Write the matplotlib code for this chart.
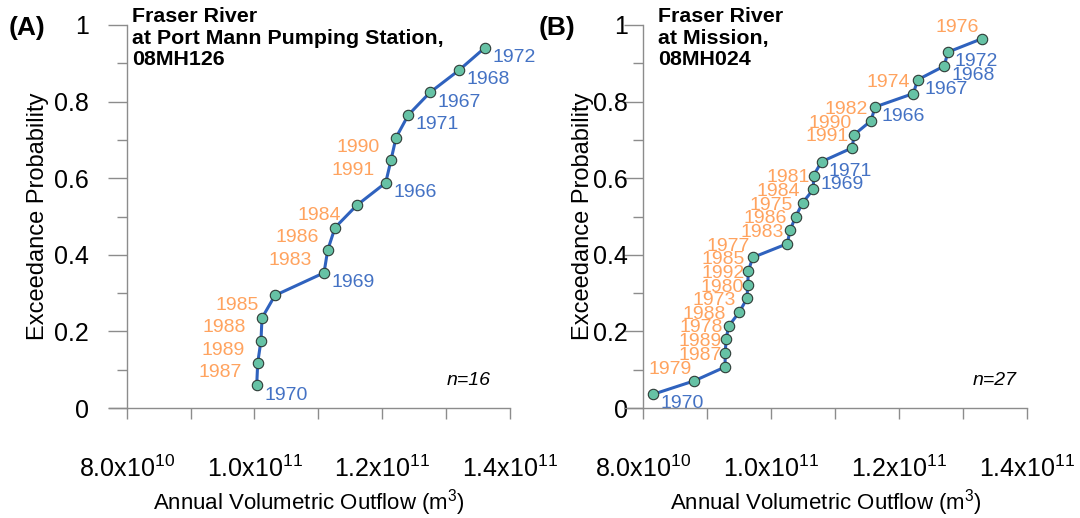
import matplotlib
matplotlib.use('Agg')
import matplotlib.pyplot as plt
from matplotlib.ticker import FixedLocator

plt.rcParams['font.family'] = ['Liberation Sans', 'DejaVu Sans']
plt.rcParams['mathtext.fontset'] = 'custom'
plt.rcParams['mathtext.rm'] = 'Liberation Sans'
plt.rcParams['mathtext.it'] = 'Liberation Sans:italic'
plt.rcParams['mathtext.bf'] = 'Liberation Sans:bold'

# ---------------- data ----------------
# Panel A: Fraser River at Port Mann Pumping Station (sorted by outflow)
years_a = [1970, 1987, 1989, 1988, 1985, 1969, 1983, 1986, 1984, 1966,
           1991, 1990, 1971, 1967, 1968, 1972]
outflow_a = [1.0035e11, 1.0051e11, 1.0102e11, 1.0118e11, 1.0321e11, 1.1089e11,
             1.1146e11, 1.1261e11, 1.1600e11, 1.2054e11, 1.2137e11, 1.2216e11,
             1.2408e11, 1.2748e11, 1.3202e11, 1.3609e11]
prob_a = [0.059, 0.118, 0.176, 0.235, 0.294, 0.353, 0.412, 0.471, 0.529, 0.588,
          0.647, 0.706, 0.765, 0.824, 0.882, 0.941]

# Panel B: Fraser River at Mission (sorted by outflow)
years_b = [1970, 1979, 1987, 1989, 1978, 1988, 1973, 1980, 1992, 1985,
           1977, 1983, 1986, 1975, 1984, 1981, 1969, 1971, 1991, 1990,
           1982, 1966, 1974, 1967, 1968, 1972, 1976]
outflow_b = [8.161e10, 8.802e10, 9.281e10, 9.285e10, 9.297e10, 9.339e10, 9.503e10,
             9.625e10, 9.636e10, 9.645e10, 9.714e10, 1.0255e11, 1.0297e11,
             1.0386e11, 1.0495e11, 1.0661e11, 1.0665e11, 1.0789e11, 1.1266e11,
             1.1302e11, 1.1563e11, 1.1625e11, 1.2223e11, 1.2292e11, 1.2708e11,
             1.2761e11, 1.3292e11]
prob_b = [0.036, 0.071, 0.107, 0.143, 0.179, 0.214, 0.250, 0.286, 0.321, 0.357,
          0.393, 0.429, 0.464, 0.500, 0.536, 0.571, 0.607, 0.643, 0.679, 0.714,
          0.750, 0.786, 0.821, 0.857, 0.893, 0.929, 0.964]

xtick_values = [8.0e10, 1.0e11, 1.2e11, 1.4e11]
xtick_labels = ['8.0x10$^{10}$', '1.0x10$^{11}$', '1.2x10$^{11}$', '1.4x10$^{11}$']
xminor_values = [9.0e10, 1.1e11, 1.3e11]
ytick_values = [0, 0.2, 0.4, 0.6, 0.8, 1.0]
ytick_labels = ['0', '0.2', '0.4', '0.6', '0.8', '1']
yminor_values = [0.1, 0.3, 0.5, 0.7, 0.9]

panels = [
    dict(years=years_a, x=outflow_a, y=prob_a, tag='(A)',
         title='Fraser River\nat Port Mann Pumping Station,\n08MH126', n='n=16'),
    dict(years=years_b, x=outflow_b, y=prob_b, tag='(B)',
         title='Fraser River\nat Mission,\n08MH024', n='n=27'),
]

# ---------------- style ----------------
LINE = '#2F62BE'
MARK = '#66C2A5'
BLUE = '#4472C4'
ORANGE = '#FFA35F'
AXC = '#8C8C8C'

W, H = 1080, 518
fig = plt.figure(figsize=(W / 100, H / 100), dpi=100)

ax_left_px = [108.7, 625.0]
ax_w_px = [401.3, 402.0]
ax_bottom = 1 - 408 / H
ax_h = (408 - 25) / H

orange_off = [(-11.5, -10.4), (-2.2, 5.0)]
blue_off = [(5.5, -10.3), (5.0, -10.0)]
n_pos = [(0.953, 0.073), (0.975, 0.073)]
title_x = [0.014 + 18 / 401.3, 0.037 + 18 / 402.0]
tag_x = [9 / W, 539 / W]
ytick_pad = [13, -3.0]
ylabel_x = [-0.150, -0.077]

x0 = 8.0e10 - 18 * (6e10 / 383.5)

for i, p in enumerate(panels):
    ax = fig.add_axes([ax_left_px[i] / W, ax_bottom, ax_w_px[i] / W, ax_h])
    ax.set_xlim(x0, 1.4e11)
    ax.set_ylim(0, 1)
    ax.spines['top'].set_visible(False)
    ax.spines['right'].set_visible(False)
    ax.spines['left'].set_position(('data', 8.0e10))
    for s in ('left', 'bottom'):
        ax.spines[s].set_color(AXC)
        ax.spines[s].set_linewidth(1.0)

    ax.plot(p['x'], p['y'], color=LINE, lw=2.2, zorder=3, clip_on=False)
    ax.plot(p['x'], p['y'], 'o', ms=7.5, mfc=MARK, mec='#2E3B36', mew=0.8,
            zorder=4, clip_on=False)

    for yr, xv, yv in zip(p['years'], p['x'], p['y']):
        if yr <= 1972:
            dx, dy = blue_off[i]
            ax.annotate(str(yr), (xv, yv), xytext=(dx, dy), textcoords='offset points',
                        ha='left', va='baseline', color=BLUE, fontsize=14,
                        zorder=2, annotation_clip=False)
        else:
            dx, dy = orange_off[i]
            ax.annotate(str(yr), (xv, yv), xytext=(dx, dy), textcoords='offset points',
                        ha='right', va='baseline', color=ORANGE, fontsize=14,
                        zorder=2, annotation_clip=False)

    ax.xaxis.set_major_locator(FixedLocator(xtick_values))
    ax.set_xticklabels(xtick_labels)
    ax.xaxis.set_minor_locator(FixedLocator(xminor_values))
    ax.yaxis.set_major_locator(FixedLocator(ytick_values))
    ax.set_yticklabels(ytick_labels)
    ax.yaxis.set_minor_locator(FixedLocator(yminor_values))

    ax.tick_params(axis='x', which='major', direction='out', length=8, width=1,
                   color=AXC, labelsize=18, pad=26)
    ax.tick_params(axis='x', which='minor', direction='out', length=8, width=1,
                   color=AXC)
    ax.tick_params(axis='y', which='major', direction='out', length=14, width=1,
                   color=AXC, labelsize=18, pad=ytick_pad[i])
    ax.tick_params(axis='y', which='minor', direction='out', length=7, width=1,
                   color=AXC)

    ax.set_xlabel('Annual Volumetric Outflow (m$^3$)', fontsize=16, labelpad=4)
    ax.set_ylabel('Exceedance Probability', fontsize=17)
    ax.yaxis.set_label_coords(ylabel_x[i], 0.5)

    ax.text(title_x[i], 1.047, p['title'], transform=ax.transAxes, ha='left',
            va='top', fontsize=15.4, fontweight='bold', linespacing=1.18)
    ax.text(n_pos[i][0], n_pos[i][1], p['n'], transform=ax.transAxes, ha='right',
            va='center', fontsize=14, style='italic')

    fig.text(tag_x[i], 1 - 28 / H, p['tag'], ha='left', va='center',
             fontsize=19, fontweight='bold')

fig.savefig('out.png', dpi=100)
